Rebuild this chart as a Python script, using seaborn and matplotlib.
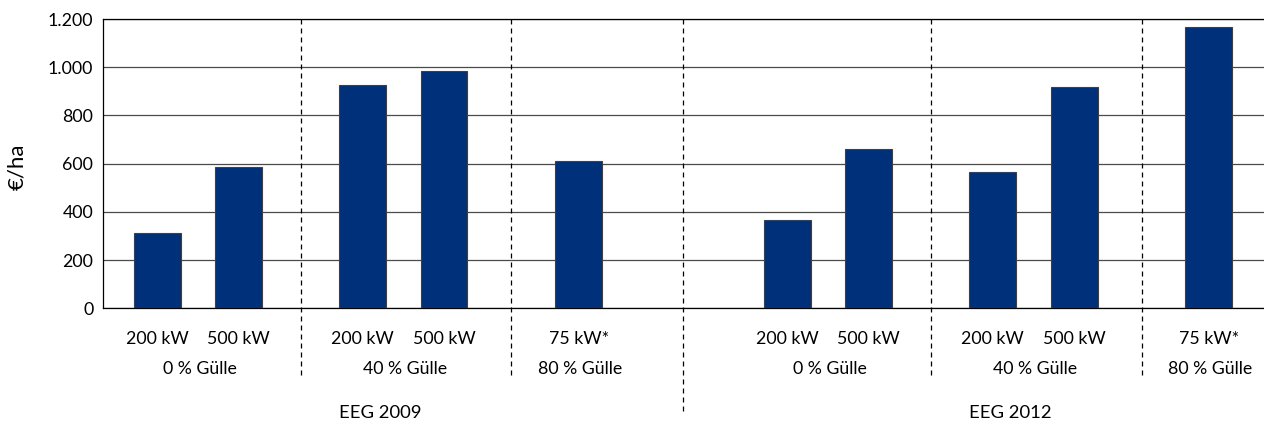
import matplotlib
matplotlib.use("Agg")
import matplotlib.pyplot as plt
import matplotlib.transforms as mtransforms
from matplotlib.ticker import FuncFormatter
import pandas as pd
import seaborn as sns

# ---- data ----
eeg = ["EEG 2009"] * 5 + ["EEG 2012"] * 5
guelle = ["0 % Gülle", "0 % Gülle", "40 % Gülle", "40 % Gülle", "80 % Gülle",
          "0 % Gülle", "0 % Gülle", "40 % Gülle", "40 % Gülle", "80 % Gülle"]
size = ["200 kW", "500 kW", "200 kW", "500 kW", "75 kW*",
        "200 kW", "500 kW", "200 kW", "500 kW", "75 kW*"]
values = [313, 588, 925, 984, 610, 365, 660, 565, 917, 1168]
y_ticks = [0, 200, 400, 600, 800, 1000, 1200]
y_label = "€/ha"

# ---- layout (axis units = pixels from left spine) ----
start, step = 54.2, 81.5
gap_to = {"40 % Gülle": 123.9, "80 % Gülle": 134.6}
eeg_gap = 208.6
pos = [start]
for i in range(1, len(values)):
    if eeg[i] != eeg[i - 1]:
        pos.append(pos[-1] + eeg_gap)
    elif guelle[i] != guelle[i - 1]:
        pos.append(pos[-1] + gap_to[guelle[i]])
    else:
        pos.append(pos[-1] + step)

df = pd.DataFrame({"pos": pos, "value": values, "size": size,
                   "guelle": guelle, "eeg": eeg})

sns.set_theme(style="white")
plt.rcParams["font.family"] = ["Lato", "DejaVu Sans"]
FS = 12.8

W, H = 1264, 425
fig = plt.figure(figsize=(W / 100, H / 100), dpi=100)
ax = fig.add_axes([103 / W, 1 - 308.3 / H, 1 - 103 / W, (308.3 - 19) / H])

sns.barplot(data=df, x="pos", y="value", native_scale=True, width=46.7 / step,
            color="#00307A", saturation=1, edgecolor="#404040", linewidth=0.8,
            ax=ax, zorder=3)

ax.set_xlim(0, W - 103)
ax.set_ylim(0, 1200)
ax.set_yticks(y_ticks)
ax.yaxis.set_major_formatter(FuncFormatter(lambda v, p: f"{int(v):,}".replace(",", ".")))
ax.yaxis.grid(True, color="#4a4a4a", lw=0.9, zorder=0)
ax.xaxis.grid(False)
ax.set_axisbelow(True)
ax.spines["right"].set_visible(False)
for s in ["left", "bottom", "top"]:
    ax.spines[s].set_color("black")
    ax.spines[s].set_linewidth(0.9)

ax.set_xticks(pos, labels=size)
ax.tick_params(axis="x", length=0, pad=16, labelsize=FS, colors="black")
ax.tick_params(axis="y", length=0, pad=7, labelsize=FS, colors="black")
ax.set_xlabel("")
ax.set_ylabel("")

fig.text(17 / W, 1 - 167 / H, y_label, rotation=90, ha="center", va="center",
         fontsize=16, color="black")

blend = mtransforms.blended_transform_factory(ax.transData, fig.transFigure)

# group labels (Gülle) and EEG labels
groups = df.groupby(["eeg", "guelle"], sort=False)["pos"].mean()
for (e, g), x in groups.items():
    ax.text(x + 1.5, 1 - 369 / H, g, transform=blend, ha="center", va="center",
            fontsize=FS, color="black")
eeg_pos = df.groupby("eeg", sort=False)["pos"].agg(["min", "max"])
for e, r in eeg_pos.iterrows():
    ax.text((r["min"] + r["max"]) / 2 + 12, 1 - 412.5 / H, e, transform=blend,
            ha="center", va="center", fontsize=FS + 0.5, color="black")

# dashed separators between groups
for i in range(1, len(pos)):
    if guelle[i] != guelle[i - 1] or eeg[i] != eeg[i - 1]:
        xm = (pos[i] + pos[i - 1]) / 2
        y_end = 412 if eeg[i] != eeg[i - 1] else 377
        ax.plot([xm, xm], [1 - 19 / H, 1 - y_end / H], transform=blend,
                color="black", lw=0.9, dashes=(4, 3.2), clip_on=False, zorder=4)

fig.savefig("out.png", dpi=100)
